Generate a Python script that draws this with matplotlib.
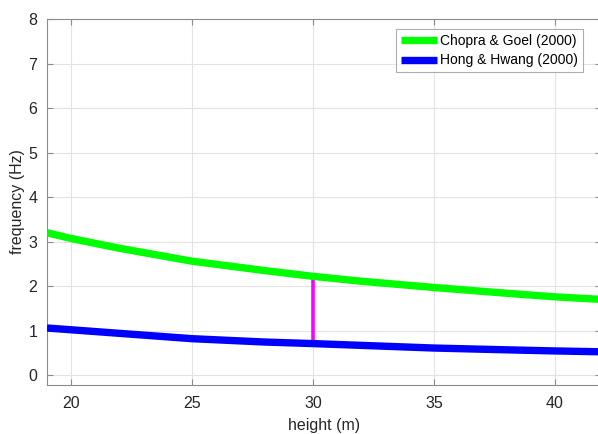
import matplotlib
matplotlib.use("Agg")
import matplotlib.pyplot as plt

heights = [19, 20, 22, 25, 28, 30, 32, 35, 38, 40, 42, 44]
chopra_goel = [3.20, 3.07, 2.85, 2.56, 2.35, 2.22, 2.11, 1.97, 1.84, 1.76, 1.70, 1.64]
hong_hwang = [1.06, 1.02, 0.94, 0.82, 0.745, 0.71, 0.67, 0.61, 0.57, 0.545, 0.525, 0.50]
marker_height = 30
marker_range = [0.72, 2.18]
legend_labels = ["Chopra & Goel (2000)", "Hong & Hwang (2000)"]

plt.rcParams['font.family'] = ['Liberation Sans', 'DejaVu Sans']

fig = plt.figure(figsize=(5.98, 4.34), dpi=100)
ax = fig.add_axes([47/598, 49/434, 554/598, 366/434])

ax.plot(heights, chopra_goel, color='#00ff00', lw=5.3, solid_capstyle='butt', label=legend_labels[0], zorder=3)
ax.plot(heights, hong_hwang, color='#0000ff', lw=5.3, solid_capstyle='butt', label=legend_labels[1], zorder=3)
ax.plot([marker_height, marker_height], marker_range, color='#ff00ff', lw=2.6, zorder=2)

ax.set_xlim(19, 41.9)
ax.set_ylim(-0.22, 8)
ax.set_xticks([20, 25, 30, 35, 40])
ax.set_yticks(range(0, 9))
ax.grid(True, color='#e3e3e3', lw=0.8)
ax.set_axisbelow(True)
for s in ax.spines.values():
    s.set_color('#8c8c8c')
    s.set_linewidth(0.8)
ax.tick_params(direction='in', length=4, colors='#8c8c8c', labelcolor='#262626', labelsize=11.5,
               top=True, right=True)
ax.tick_params(axis='x', pad=8)
ax.tick_params(axis='y', pad=7)
ax.set_xlabel('height (m)', fontsize=11.5, color='#262626', labelpad=5)
ax.set_ylabel('frequency (Hz)', fontsize=11.5, color='#262626', labelpad=2)

leg = ax.legend(loc='upper right', bbox_to_anchor=(583/598, (434-29)/434), bbox_transform=fig.transFigure,
                fontsize=10, frameon=True, fancybox=False, handlelength=2.6, handletextpad=0.25,
                borderpad=0.35, labelspacing=0.4, borderaxespad=0)
leg.get_frame().set_edgecolor('#9a9a9a')
leg.get_frame().set_linewidth(0.8)

fig.savefig('out.png', dpi=100)
